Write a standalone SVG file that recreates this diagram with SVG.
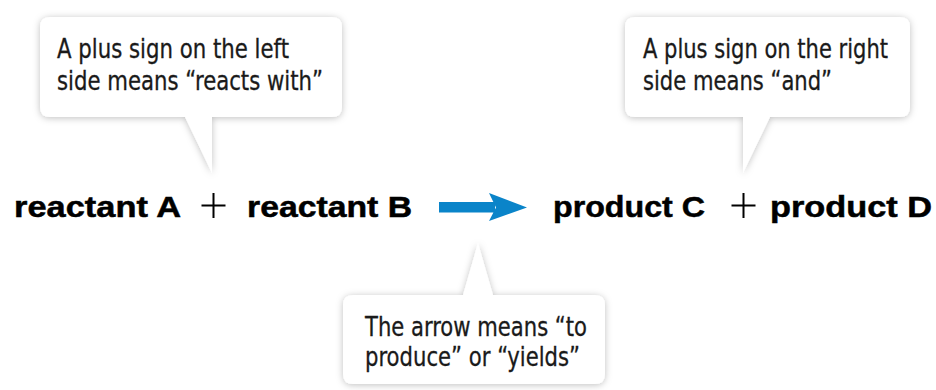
<svg xmlns="http://www.w3.org/2000/svg" width="936" height="390" viewBox="0 0 936 390">
<defs>
<filter id="sh" x="-10%" y="-20%" width="120%" height="140%">
<feDropShadow dx="0" dy="1" stdDeviation="3.5" flood-color="#000" flood-opacity="0.25"/>
</filter>
</defs>
<style>
.callout{fill:#fff;filter:url(#sh)}
.ct{font-family:"Liberation Sans Narrow","DejaVu Sans Condensed","Liberation Sans",sans-serif;font-size:27px;fill:#1a1a1a;stroke:#1a1a1a;stroke-width:0.3}
.eq{font-family:"Liberation Sans","DejaVu Sans",sans-serif;font-weight:bold;font-size:30px;fill:#000;stroke:#000;stroke-width:0.5}
.plus{stroke:#000;stroke-width:2;fill:none}
</style>
<rect width="936" height="390" fill="#fff"/>
<g id="callout-left">
<path class="callout" d="M50,17 H332 Q342,17 342,27 V107 Q342,117 332,117 H212 V173 L185,117 H50 Q40,117 40,107 V27 Q40,17 50,17 Z"/>
<text class="ct" x="57" y="58" textLength="232" lengthAdjust="spacingAndGlyphs">A plus sign on the left</text>
<text class="ct" x="57" y="90" textLength="266" lengthAdjust="spacingAndGlyphs">side means “reacts with”</text>
</g>
<g id="callout-right">
<path class="callout" d="M635,17 H900 Q910,17 910,27 V107 Q910,117 900,117 H770 L743,173 V117 H635 Q625,117 625,107 V27 Q625,17 635,17 Z"/>
<text class="ct" x="643" y="58" textLength="245" lengthAdjust="spacingAndGlyphs">A plus sign on the right</text>
<text class="ct" x="643" y="90" textLength="189" lengthAdjust="spacingAndGlyphs">side means “and”</text>
</g>
<g id="callout-bottom">
<path class="callout" d="M353,295 H463 L478,243 L493,295 H595 Q605,295 605,305 V374 Q605,384 595,384 H353 Q343,384 343,374 V305 Q343,295 353,295 Z"/>
<text class="ct" x="365" y="336" textLength="222" lengthAdjust="spacingAndGlyphs">The arrow means “to</text>
<text class="ct" x="365" y="366" textLength="215" lengthAdjust="spacingAndGlyphs">produce” or “yields”</text>
</g>
<g id="reactant-a"><text class="eq" x="14" y="217" textLength="167" lengthAdjust="spacingAndGlyphs">reactant A</text></g>
<g id="plus-left"><path class="plus" d="M213.5,193 V218 M201.5,205.5 H225.5"/></g>
<g id="reactant-b"><text class="eq" x="247" y="217" textLength="165" lengthAdjust="spacingAndGlyphs">reactant B</text></g>
<g id="connectors">
<path d="M439,202 H495 V212.5 H439 Z M489,193 L527,207.5 L489,221 L496,207.5 Z" fill="#0a84c9"/>
</g>
<g id="product-c"><text class="eq" x="553" y="217" textLength="152" lengthAdjust="spacingAndGlyphs">product C</text></g>
<g id="plus-right"><path class="plus" d="M743.5,193 V218 M731.5,205.5 H755.5"/></g>
<g id="product-d"><text class="eq" x="770" y="217" textLength="162" lengthAdjust="spacingAndGlyphs">product D</text></g>
</svg>
